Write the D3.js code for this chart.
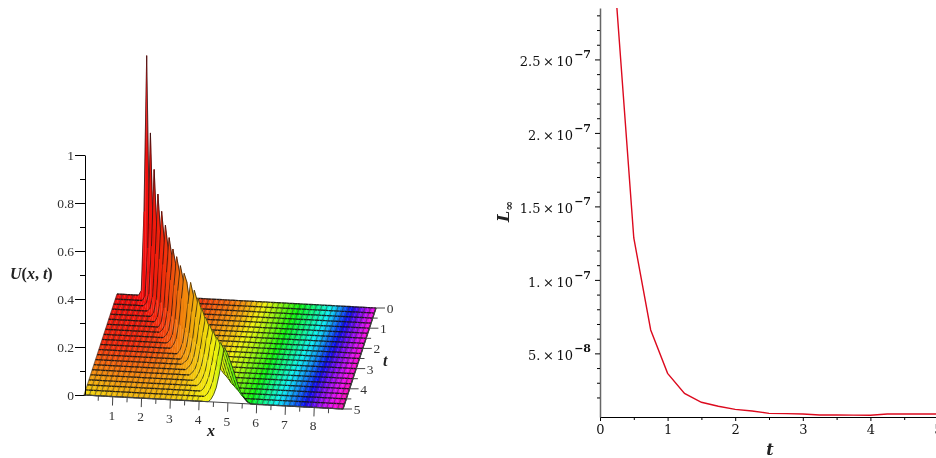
<!DOCTYPE html>
<meta charset="utf-8">
<style>
	body { margin: 0; background: white; }
	svg { display: block; filter: blur(0.35px); }
	.surface { filter: blur(0.3px); }
	.left text { font-family: "Liberation Serif", serif; font-size: 13.5px; fill: #333; }
	.right text { font-family: "DejaVu Serif", serif; font-size: 13px; fill: #111; }
	.title3d { font-weight: bold; font-style: italic; font-size: 16px !important; fill: #222 !important; }
</style>
<body>
<script src="https://d3js.org/d3.v7.min.js"></script>
<script>
	// surface grid: 97 columns over x 0..9, one row per 0.25 of t
	var xCols = 96;
	var tRows = d3.range(0, 21).map(function(j) { return j * 0.25; });

	// first non zero column of each t row, everything outside the row's list is 0
	var ridgeFirstCol = [9,11,12,14,16,18,20,21,23,25,27,30,32,33,35,37,39,41,43,45,47];
	var ridgeValues = [
		[.02,.35,1,.3,.03],
		[.02,.22,.7,.3,.05],
		[.01,.05,.25,.57,.32,.1,.02],
		[.01,.06,.24,.49,.33,.13,.03],
		[.015,.07,.24,.44,.32,.15,.05,.01],
		[.02,.08,.24,.405,.31,.16,.06,.02],
		[.02,.08,.23,.375,.3,.17,.07,.02],
		[.01,.03,.09,.22,.35,.29,.18,.08,.03,.01],
		[.01,.03,.09,.22,.34,.28,.18,.09,.04,.01],
		[.01,.035,.1,.22,.325,.27,.18,.1,.05,.02],
		[.015,.04,.1,.21,.315,.28,.2,.12,.06,.025,.01],
		[.015,.045,.11,.21,.3,.25,.18,.11,.06,.03,.01],
		[.02,.05,.11,.2,.29,.25,.19,.12,.07,.035,.015],
		[.01,.02,.05,.11,.2,.28,.24,.19,.13,.08,.04,.02,.01],
		[.01,.025,.055,.11,.19,.26,.225,.18,.13,.08,.045,.02,.01],
		[.01,.025,.055,.11,.18,.245,.215,.175,.13,.09,.05,.025,.01],
		[.01,.03,.06,.11,.18,.238,.21,.175,.135,.095,.06,.03,.015],
		[.01,.03,.06,.11,.175,.232,.205,.175,.14,.1,.065,.035,.015,.005],
		[.01,.03,.06,.11,.17,.228,.205,.175,.14,.105,.07,.04,.02,.01],
		[.01,.03,.06,.11,.17,.228,.205,.18,.145,.11,.075,.045,.025,.01],
		[.01,.03,.06,.11,.17,.23,.21,.18,.15,.115,.08,.05,.03,.015,.005]
	];

	// hue of the surface read at the back, middle and front of the t range
	var hueX = [0,1,2,3,4,4.5,5.2,5.8,6.4,7.5,8.2,9];
	var hueT = [0,2.5,5];
	var hueBack = [0,0,2,12,25,35,60,90,120,180,240,305];
	var hueMid = [8,8,16,32,48,55,76,104,142,205,260,312];
	var hueFront = [55,48,45,48,58,62,100,125,165,230,280,320];

	var uTicks = [0,.2,.4,.6,.8,1];
	var uMinor = [.1,.3,.5,.7,.9];
	var xTicks = [1,2,3,4,5,6,7,8];
	var xMinor = [.5,1.5,2.5,3.5,4.5,5.5,6.5,7.5,8.5];
	var tTicks3d = [0,1,2,3,4,5];
	var tMinor3d = [.5,1.5,2.5,3.5,4.5];

	// right panel, L infinity error against t
	var errT = [.25,.5,.75,1,1.25,1.5,1.75,2,2.25,2.5,2.75,3,3.25,3.5,3.75,4,4.25,4.5,4.75,5];
	var errL = [2.85e-7,1.285e-7,6.59e-8,3.64e-8,2.28e-8,1.67e-8,1.4e-8,1.19e-8,1.08e-8,9.2e-9,9e-9,8.7e-9,8.1e-9,8.1e-9,8e-9,7.9e-9,8.7e-9,8.7e-9,8.7e-9,8.7e-9];
	var errTicks = [5e-8,1e-7,1.5e-7,2e-7,2.5e-7];
	var errMantissa = ["5.","1.","1.5","2.","2.5"];
	var errExponent = ["\u22128","\u22127","\u22127","\u22127","\u22127"];
	var errMinor = [2e-8,3e-8,4e-8,6e-8,7e-8,8e-8,9e-8,1.1e-7,1.2e-7,1.3e-7,1.4e-7,1.6e-7,1.7e-7,1.8e-7,1.9e-7,2.1e-7,2.2e-7,2.3e-7,2.4e-7,2.6e-7,2.7e-7,2.8e-7];
	var tTicks = [0,1,2,3,4,5];
	var tMinor = [.5,1.5,2.5,3.5,4.5];

	var width = 936;
	var height = 458;

	var svg = d3.select("body")
		.append("svg")
		.attr("width", width)
		.attr("height", height);

	// ---- left panel ----
	var left = svg.append("g").attr("class", "left");

	var xToSx = d3.scaleLinear().domain([0, 9]).range([0, 259]);
	var xToSy = d3.scaleLinear().domain([0, 9]).range([0, 14]);
	var tToSx = d3.scaleLinear().domain([0, 5]).range([117, 84]);
	var tToSy = d3.scaleLinear().domain([0, 5]).range([294, 395]);
	var uToSy = d3.scaleLinear().domain([0, 1]).range([0, -240]);

	function project(x, t, u) {
		return [xToSx(x) + tToSx(t), xToSy(x) + tToSy(t) + uToSy(u)];
	}

	var back = d3.scaleLinear().domain(hueX).range(hueBack);
	var mid = d3.scaleLinear().domain(hueX).range(hueMid);
	var front = d3.scaleLinear().domain(hueX).range(hueFront);

	function cellColor(x, t) {
		var hue = d3.scaleLinear().domain(hueT).range([back(x), mid(x), front(x)])(t);
		return d3.hsl(hue, 0.9, 0.5).formatRgb();
	}

	function uAt(i, j) {
		var v = ridgeValues[j][i - ridgeFirstCol[j]];
		return v === undefined ? 0 : v;
	}

	function colX(i) { return i * 9 / xCols; }

	// back to front, left to right, so nearer cells paint over further ones
	var cells = [];
	d3.range(0, tRows.length - 1).forEach(function(j) {
		d3.range(0, xCols).forEach(function(i) {
			cells.push({
				i: i,
				j: j,
				onRidge: uAt(i, j) > 0 || uAt(i + 1, j) > 0,
				a: project(colX(i), tRows[j], uAt(i, j)),
				b: project(colX(i + 1), tRows[j], uAt(i + 1, j)),
				c: project(colX(i + 1), tRows[j + 1], uAt(i + 1, j + 1)),
				d: project(colX(i), tRows[j + 1], uAt(i, j + 1)),
				color: cellColor(colX(i) + 0.05, tRows[j] + 0.125)
			});
		});
	});

	var cell = left.append("g").attr("class", "surface").selectAll("g")
		.data(cells)
		.join("g");

	cell.append("path")
		.attr("d", function(d) { return "M" + [d.a, d.b, d.c, d.d].join("L") + "Z"; })
		.attr("fill", function(d) { return d.color; })
		.attr("stroke", function(d) { return d.color; })
		.attr("stroke-width", 0.3);

	// grid lines along t, every second column
	cell.filter(function(d) { return d.i % 2 == 0 && !d.onRidge; })
		.append("path")
		.attr("d", function(d) { return "M" + d.a + "L" + d.d; })
		.attr("stroke", "#222")
		.attr("stroke-opacity", 0.5)
		.attr("stroke-width", 1.1)
		.attr("fill", "none");

	// grid lines along x, finer on the ridge where they crowd together
	cell.append("path")
		.attr("d", function(d) {
			var line = "M" + d.a + "L" + d.b;
			if (d.j == tRows.length - 2) line += "M" + d.d + "L" + d.c;
			if (d.i == xCols - 1) line += "M" + d.b + "L" + d.c;
			return line;
		})
		.attr("stroke", "#111")
		.attr("stroke-opacity", function(d) { return d.onRidge ? 0.7 : 0.9; })
		.attr("stroke-width", function(d) { return d.onRidge ? 1 : 1.35; })
		.attr("fill", "none");

	// U axis
	var uScale = d3.scaleLinear().domain([0, 1]).range([395, 155]);
	left.append("g")
		.attr("transform", "translate(85,0)")
		.call(d3.axisLeft(uScale).tickValues(uTicks).tickSize(10).tickSizeOuter(0).tickFormat(d3.format("~g")).tickPadding(1));
	left.append("g")
		.attr("transform", "translate(85,0)")
		.call(d3.axisLeft(uScale).tickValues(uMinor).tickSize(5).tickSizeOuter(0).tickFormat(""))
		.select(".domain").remove();

	// x axis, runs along the front of the surface
	var baseLines = left.append("g").attr("stroke", "#444").attr("fill", "none");
	baseLines.append("path")
		.attr("d", "M" + project(0, 5, 0) + "L" + project(9, 5, 0));
	baseLines.selectAll(".xmajor")
		.data(xTicks)
		.join("path")
		.attr("class", "xmajor")
		.attr("d", function(d) { var p = project(d, 5, 0); return "M" + p + "L" + [p[0] - 0.3, p[1] + 9]; });
	baseLines.selectAll(".xminor")
		.data(xMinor)
		.join("path")
		.attr("class", "xminor")
		.attr("d", function(d) { var p = project(d, 5, 0); return "M" + p + "L" + [p[0] - 0.2, p[1] + 5]; });
	left.selectAll(".xlabel")
		.data(xTicks)
		.join("text")
		.attr("class", "xlabel")
		.attr("x", function(d) { return project(d, 5, 0)[0] - 1; })
		.attr("y", function(d) { return project(d, 5, 0)[1] + 23; })
		.attr("text-anchor", "middle")
		.text(function(d) { return d; });

	// t axis, runs along the right edge
	baseLines.append("path")
		.attr("d", "M" + project(9, 0, 0) + "L" + project(9, 5, 0));
	baseLines.selectAll(".tmajor")
		.data(tTicks3d)
		.join("path")
		.attr("class", "tmajor")
		.attr("d", function(d) { var p = project(9, d, 0); return "M" + p + "L" + [p[0] + 9, p[1]]; });
	baseLines.selectAll(".tminor")
		.data(tMinor3d)
		.join("path")
		.attr("class", "tminor")
		.attr("d", function(d) { var p = project(9, d, 0); return "M" + p + "L" + [p[0] + 5, p[1]]; });
	left.selectAll(".tlabel")
		.data(tTicks3d)
		.join("text")
		.attr("class", "tlabel")
		.attr("x", function(d) { return project(9, d, 0)[0] + 14; })
		.attr("y", function(d) { return project(9, d, 0)[1] + 5; })
		.attr("text-anchor", "middle")
		.text(function(d) { return d; });

	left.append("text").attr("class", "title3d").attr("x", 207).attr("y", 436).text("x");
	left.append("text").attr("class", "title3d").attr("x", 383).attr("y", 366).text("t");
	var uLabel = left.append("text").attr("class", "title3d").attr("x", 10).attr("y", 279);
	uLabel.append("tspan").text("U");
	uLabel.append("tspan").style("font-style", "normal").text("(");
	uLabel.append("tspan").text("x");
	uLabel.append("tspan").style("font-style", "normal").text(", ");
	uLabel.append("tspan").text("t");
	uLabel.append("tspan").style("font-style", "normal").text(")");

	// ---- right panel ----
	var right = svg.append("g").attr("class", "right");

	var x = d3.scaleLinear().domain([0, 5]).range([600, 938]);
	var y = d3.scaleLinear().domain([6.7e-9, 2.85e-7]).range([417, 8]);

	right.append("g")
		.attr("transform", "translate(0,417)")
		.call(d3.axisBottom(x).tickValues(tTicks).tickSize(4).tickSizeOuter(0).tickFormat(d3.format("d")).tickPadding(4));
	right.append("g")
		.attr("transform", "translate(0,417)")
		.call(d3.axisBottom(x).tickValues(tMinor).tickSize(3).tickSizeOuter(0).tickFormat(""))
		.select(".domain").remove();

	var yAxis = right.append("g")
		.attr("transform", "translate(600,0)")
		.call(d3.axisLeft(y).tickValues(errTicks).tickSize(5).tickSizeOuter(0).tickFormat(""));
	yAxis.select(".domain").attr("stroke", "#666").attr("stroke-width", 1.5);
	right.append("g")
		.attr("transform", "translate(600,0)")
		.call(d3.axisLeft(y).tickValues(errMinor).tickSize(3).tickSizeOuter(0).tickFormat(""))
		.select(".domain").remove();

	right.selectAll(".ylabel")
		.data(errTicks)
		.join("text")
		.attr("class", "ylabel")
		.attr("x", 591)
		.attr("y", function(d) { return y(d) + 7; })
		.attr("text-anchor", "end")
		.each(function(d, i) {
			var label = d3.select(this);
			label.append("tspan").text(errMantissa[i] + "\u2009\u00d7\u200910");
			label.append("tspan").attr("dx", 1).attr("dy", -8).style("font-size", "11px").style("font-weight", "bold").text(errExponent[i]);
		});

	right.append("path")
		.datum(errT.map(function(d, i) { return [d, errL[i]]; }))
		.attr("fill", "none")
		.attr("stroke", "#dc0a1e")
		.attr("stroke-width", 1.4)
		.attr("d", d3.line().x(function(d) { return x(d[0]); }).y(function(d) { return y(d[1]); }));

	right.append("text").attr("class", "title3d").attr("x", 770).attr("y", 455).attr("text-anchor", "middle").text("t");

	var lLabel = right.append("text")
		.attr("class", "title3d")
		.attr("transform", "translate(509,222) rotate(-90)");
	lLabel.append("tspan").text("L");
	lLabel.append("tspan").attr("dy", 4).style("font-size", "12px").style("font-style", "normal").text("\u221e");
</script>
</body>
</html>
